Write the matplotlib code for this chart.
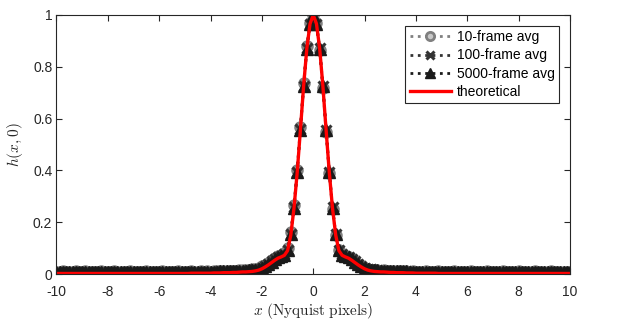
import numpy as np
import matplotlib
matplotlib.use("Agg")
import matplotlib.pyplot as plt

# sample positions (Nyquist pixels), step 1/8
x = np.arange(-80, 81) / 8.0

theory = [
    0.002, 0.002, 0.002, 0.002, 0.002, 0.002, 0.002, 0.002,
    0.002, 0.002, 0.002, 0.002, 0.002, 0.002, 0.002, 0.002,
    0.002, 0.002, 0.002, 0.002, 0.002, 0.002, 0.002, 0.002,
    0.002, 0.002, 0.002, 0.002, 0.002, 0.002, 0.002, 0.002,
    0.002, 0.002, 0.002, 0.002, 0.002, 0.002, 0.002, 0.002,
    0.002, 0.002, 0.003, 0.003, 0.003, 0.003, 0.003, 0.003,
    0.003, 0.004, 0.004, 0.004, 0.005, 0.005, 0.005, 0.006,
    0.006, 0.007, 0.008, 0.008, 0.009, 0.010, 0.012, 0.015,
    0.020, 0.027, 0.035, 0.044, 0.053, 0.061, 0.066, 0.072,
    0.090, 0.150, 0.254, 0.392, 0.556, 0.726, 0.871, 0.966,
    1.000,
    0.966, 0.871, 0.726, 0.556, 0.392, 0.254, 0.150, 0.090,
    0.072, 0.066, 0.061, 0.053, 0.044, 0.035, 0.027, 0.020,
    0.015, 0.012, 0.010, 0.009, 0.008, 0.008, 0.007, 0.006,
    0.006, 0.005, 0.005, 0.005, 0.004, 0.004, 0.004, 0.003,
    0.003, 0.003, 0.003, 0.003, 0.003, 0.003, 0.002, 0.002,
    0.002, 0.002, 0.002, 0.002, 0.002, 0.002, 0.002, 0.002,
    0.002, 0.002, 0.002, 0.002, 0.002, 0.002, 0.002, 0.002,
    0.002, 0.002, 0.002, 0.002, 0.002, 0.002, 0.002, 0.002,
    0.002, 0.002, 0.002, 0.002, 0.002, 0.002, 0.002, 0.002,
    0.002, 0.002, 0.002, 0.002, 0.002, 0.002, 0.002, 0.002,
]

avg_5000 = [
    0.008, 0.008, 0.007, 0.008, 0.008, 0.007, 0.008, 0.008,
    0.007, 0.008, 0.008, 0.007, 0.008, 0.008, 0.008, 0.007,
    0.008, 0.008, 0.007, 0.008, 0.008, 0.007, 0.008, 0.008,
    0.007, 0.008, 0.008, 0.008, 0.007, 0.008, 0.008, 0.007,
    0.008, 0.008, 0.007, 0.008, 0.008, 0.008, 0.007, 0.008,
    0.008, 0.008, 0.008, 0.008, 0.008, 0.009, 0.008, 0.009,
    0.009, 0.009, 0.009, 0.010, 0.010, 0.010, 0.011, 0.011,
    0.011, 0.012, 0.012, 0.013, 0.014, 0.015, 0.017, 0.020,
    0.024, 0.031, 0.039, 0.048, 0.057, 0.064, 0.069, 0.075,
    0.093, 0.153, 0.256, 0.393, 0.556, 0.724, 0.870, 0.965,
    1.000,
    0.965, 0.870, 0.724, 0.556, 0.393, 0.256, 0.153, 0.093,
    0.075, 0.069, 0.064, 0.057, 0.048, 0.039, 0.031, 0.024,
    0.020, 0.017, 0.015, 0.014, 0.013, 0.012, 0.012, 0.011,
    0.011, 0.011, 0.010, 0.010, 0.010, 0.009, 0.009, 0.009,
    0.009, 0.008, 0.009, 0.008, 0.008, 0.008, 0.008, 0.007,
    0.008, 0.008, 0.007, 0.008, 0.008, 0.007, 0.008, 0.008,
    0.007, 0.008, 0.008, 0.008, 0.007, 0.008, 0.008, 0.007,
    0.008, 0.008, 0.007, 0.008, 0.008, 0.008, 0.007, 0.008,
    0.008, 0.007, 0.008, 0.008, 0.007, 0.008, 0.008, 0.008,
    0.007, 0.008, 0.008, 0.007, 0.008, 0.008, 0.007, 0.008,
]

avg_100 = [
    0.008, 0.007, 0.008, 0.008, 0.007, 0.008, 0.009, 0.008,
    0.007, 0.008, 0.008, 0.008, 0.007, 0.008, 0.008, 0.007,
    0.008, 0.009, 0.008, 0.007, 0.008, 0.008, 0.008, 0.007,
    0.008, 0.008, 0.007, 0.008, 0.009, 0.008, 0.007, 0.008,
    0.008, 0.007, 0.008, 0.008, 0.008, 0.007, 0.008, 0.009,
    0.008, 0.008, 0.008, 0.009, 0.008, 0.008, 0.009, 0.009,
    0.009, 0.009, 0.009, 0.010, 0.010, 0.010, 0.011, 0.011,
    0.012, 0.012, 0.013, 0.013, 0.014, 0.016, 0.018, 0.021,
    0.025, 0.032, 0.040, 0.049, 0.058, 0.065, 0.070, 0.076,
    0.094, 0.155, 0.258, 0.395, 0.558, 0.726, 0.872, 0.966,
    1.000,
    0.966, 0.871, 0.725, 0.557, 0.394, 0.257, 0.154, 0.094,
    0.076, 0.070, 0.065, 0.058, 0.049, 0.040, 0.032, 0.025,
    0.021, 0.018, 0.016, 0.014, 0.013, 0.013, 0.012, 0.012,
    0.011, 0.011, 0.010, 0.010, 0.010, 0.009, 0.009, 0.009,
    0.009, 0.008, 0.009, 0.008, 0.008, 0.008, 0.008, 0.008,
    0.007, 0.008, 0.008, 0.008, 0.007, 0.008, 0.009, 0.008,
    0.007, 0.008, 0.008, 0.007, 0.008, 0.008, 0.008, 0.007,
    0.008, 0.009, 0.008, 0.007, 0.008, 0.008, 0.007, 0.008,
    0.008, 0.008, 0.007, 0.008, 0.009, 0.008, 0.007, 0.008,
    0.008, 0.007, 0.008, 0.008, 0.008, 0.007, 0.008, 0.008,
]

avg_10 = [
    0.009, 0.007, 0.010, 0.008, 0.006, 0.009, 0.010, 0.007,
    0.008, 0.010, 0.007, 0.009, 0.006, 0.008, 0.010, 0.008,
    0.007, 0.009, 0.010, 0.007, 0.008, 0.006, 0.009, 0.010,
    0.008, 0.007, 0.009, 0.008, 0.010, 0.007, 0.006, 0.009,
    0.008, 0.010, 0.007, 0.009, 0.008, 0.006, 0.010, 0.008,
    0.009, 0.007, 0.010, 0.009, 0.008, 0.010, 0.009, 0.011,
    0.009, 0.010, 0.011, 0.010, 0.012, 0.011, 0.012, 0.013,
    0.012, 0.014, 0.014, 0.015, 0.016, 0.018, 0.020, 0.024,
    0.029, 0.036, 0.044, 0.053, 0.062, 0.069, 0.075, 0.082,
    0.100, 0.162, 0.265, 0.403, 0.567, 0.736, 0.880, 0.970,
    1.000,
    0.968, 0.866, 0.719, 0.550, 0.388, 0.251, 0.150, 0.092,
    0.076, 0.070, 0.064, 0.057, 0.048, 0.039, 0.031, 0.025,
    0.021, 0.017, 0.016, 0.014, 0.013, 0.014, 0.012, 0.011,
    0.012, 0.010, 0.011, 0.009, 0.010, 0.008, 0.010, 0.009,
    0.007, 0.009, 0.010, 0.008, 0.007, 0.009, 0.010, 0.008,
    0.006, 0.009, 0.008, 0.010, 0.007, 0.008, 0.009, 0.007,
    0.010, 0.008, 0.006, 0.009, 0.008, 0.010, 0.007, 0.009,
    0.008, 0.007, 0.010, 0.008, 0.009, 0.006, 0.008, 0.010,
    0.007, 0.009, 0.008, 0.007, 0.010, 0.008, 0.009, 0.007,
    0.008, 0.010, 0.007, 0.009, 0.008, 0.006, 0.009, 0.008,
]

xticks = [-10, -8, -6, -4, -2, 0, 2, 4, 6, 8, 10]
xtick_labels = ["-10", "-8", "-6", "-4", "-2", "0", "2", "4", "6", "8", "10"]
yticks = [0, 0.2, 0.4, 0.6, 0.8, 1]
ytick_labels = ["0", "0.2", "0.4", "0.6", "0.8", "1"]

plt.rcParams["font.family"] = ["Liberation Sans", "DejaVu Sans"]
plt.rcParams["mathtext.fontset"] = "cm"
plt.rcParams["axes.unicode_minus"] = False

fig = plt.figure(figsize=(6.24, 3.23), dpi=100)
ax = fig.add_axes([0.0905, 0.1517, 0.823, 0.802])

ax.plot(x, avg_10, ls=":", lw=2, color="#808080", marker="o", ms=7,
        mfc="#c8c8c8", mec="#808080", mew=2, label="10-frame avg")
ax.plot(x, avg_100, ls=":", lw=2, color="#333333", marker="x", ms=6.5,
        mec="#333333", mew=2.2, label="100-frame avg")
ax.plot(x, avg_5000, ls=":", lw=2, color="#1a1a1a", marker="^", ms=8.5,
        mfc="#1a1a1a", mec="#1a1a1a", mew=1, label="5000-frame avg")
ax.plot(x, theory, "-", lw=2.4, color="#ff0000", label="theoretical")

ax.set_xlim(-10, 10)
ax.set_ylim(0, 1)
ax.set_xticks(xticks)
ax.set_xticklabels(xtick_labels)
ax.set_yticks(yticks)
ax.set_yticklabels(ytick_labels)
ax.tick_params(direction="in", top=True, right=True, length=4, width=0.8,
               labelsize=10, colors="#262626")
ax.tick_params(axis="x", pad=8)
ax.tick_params(axis="y", pad=3)
for s in ax.spines.values():
    s.set_color("#262626")
    s.set_linewidth(0.8)

ax.set_xlabel(r"$x\ \mathrm{(Nyquist\ pixels)}$", fontsize=11, color="#262626", labelpad=1)
ax.set_ylabel(r"$h(x,0)$", fontsize=11, color="#262626", labelpad=6)

leg = ax.legend(loc="upper right", fontsize=10, numpoints=1, handlelength=3.0,
                handletextpad=0.4, labelspacing=0.3, borderpad=0.3,
                borderaxespad=0.8, fancybox=False, framealpha=1,
                markerscale=0.85)
leg.get_frame().set_edgecolor("#262626")
leg.get_frame().set_linewidth(0.8)

fig.savefig("out.png", dpi=100)
